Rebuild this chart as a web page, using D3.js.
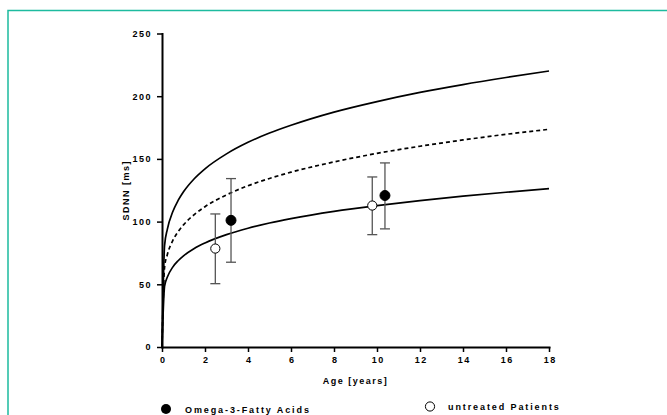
<!DOCTYPE html>
<html>
<head>
    <script src="https://d3js.org/d3.v7.min.js"></script>
    <style>
        body { margin: 0; background: #fff; }
        svg text {
            font-family: "Liberation Sans", Arial, sans-serif;
            font-weight: bold;
            font-size: 9px;
            letter-spacing: 1.5px;
            fill: #000;
        }
        svg text.legend { letter-spacing: 1.9px; }
        .axis path, .axis line { stroke: #000; }
        .axis path { stroke-width: 2px; }
        .axis line { stroke-width: 1.5px; }
        .curve { fill: none; stroke: #000; stroke-width: 1.7px; }
        .err { stroke: #555; stroke-width: 1.3px; }
    </style>
</head>
<body>
    <div id="chart"></div>

    <script>
        // Reference curves: age in years, SDNN in ms
        const curveAges   = [0, 0.12, 0.25, 0.5, 0.75, 1, 1.5, 2, 3, 4, 5, 6, 8, 10, 12, 14, 16, 18];
        const upperCurve  = [0, 81, 94, 107.8, 116.9, 123.8, 134.2, 142.1, 154, 163.2, 170.6, 176.8, 187.3, 195.7, 203, 209.3, 214.9, 220.1];
        const medianCurve = [0, 63.7, 73.8, 84.8, 92, 97.4, 105.6, 111.9, 121.3, 128.6, 134.4, 139.4, 147.6, 154.4, 160.1, 165.1, 169.6, 173.6];
        const lowerCurve  = [0, 48.5, 55.8, 63.7, 68.8, 72.7, 78.6, 83, 89.6, 94.7, 98.9, 102.4, 108.2, 112.8, 116.8, 120.3, 123.4, 126.3];

        // Patient groups: mean with error bars
        const omegaAge   = [3.21, 10.37];
        const omegaMean  = [101, 120.8];
        const omegaLow   = [67.6, 94.2];
        const omegaHigh  = [134.3, 146.8];

        const untreatedAge  = [2.48, 9.78];
        const untreatedMean = [78.5, 112.8];
        const untreatedLow  = [50.5, 89.6];
        const untreatedHigh = [106.1, 135.6];

        const xTicks = [0, 2, 4, 6, 8, 10, 12, 14, 16, 18];
        const yTicks = [0, 50, 100, 150, 200, 250];

        const W = 667, H = 415;
        const svg = d3.select("#chart").append("svg")
            .attr("width", W).attr("height", H);

        // teal frame
        svg.append("rect")
            .attr("x", 8).attr("y", 10.5)
            .attr("width", W).attr("height", H)
            .attr("fill", "none")
            .attr("stroke", "#1dbb9f")
            .attr("stroke-width", 1.5);

        const x = d3.scaleLinear().domain([0, 18]).range([162, 549]);
        const y = d3.scaleLinear().domain([0, 250]).range([347, 33.5]);

        // axes
        svg.append("g")
            .attr("class", "axis")
            .attr("transform", `translate(0,${y(0)})`)
            .call(d3.axisBottom(x).tickValues(xTicks).tickSize(5).tickSizeOuter(0).tickPadding(5))
            .call(g => g.selectAll("text").attr("dx", "0.7px"));

        svg.append("g")
            .attr("class", "axis")
            .attr("transform", `translate(${x(0)},0)`)
            .call(d3.axisLeft(y).tickValues(yTicks).tickSize(5).tickSizeOuter(0).tickPadding(5));

        svg.selectAll(".axis .domain").attr("stroke-linecap", "square");

        // axis titles
        svg.append("text")
            .attr("x", (x(0) + x(18)) / 2)
            .attr("y", 384)
            .attr("text-anchor", "middle")
            .text("Age [years]");

        svg.append("text")
            .attr("transform", `translate(129,${(y(0) + y(250)) / 2}) rotate(-90)`)
            .attr("text-anchor", "middle")
            .text("SDNN [ms]");

        // curves
        const line = d3.line()
            .x((d, i) => x(curveAges[i]))
            .y(d => y(d))
            .curve(d3.curveMonotoneX);

        svg.append("path").attr("class", "curve").attr("d", line(upperCurve));
        svg.append("path").attr("class", "curve").attr("d", line(lowerCurve));
        svg.append("path").attr("class", "curve")
            .attr("stroke-width", 2)
            .attr("stroke-dasharray", "4,3")
            .attr("d", line(medianCurve));

        // error bars + points
        function drawGroup(ages, means, lows, highs, filled) {
            const g = svg.append("g");
            ages.forEach((a, i) => {
                const cx = x(a);
                g.append("line").attr("class", "err")
                    .attr("x1", cx).attr("x2", cx)
                    .attr("y1", y(lows[i])).attr("y2", y(highs[i]));
                [lows[i], highs[i]].forEach(v => {
                    g.append("line").attr("class", "err")
                        .attr("x1", cx - 5).attr("x2", cx + 5)
                        .attr("y1", y(v)).attr("y2", y(v));
                });
                g.append("circle")
                    .attr("cx", cx).attr("cy", y(means[i]))
                    .attr("r", filled ? 5 : 4.6)
                    .attr("fill", filled ? "#000" : "#fff")
                    .attr("stroke", "#000")
                    .attr("stroke-width", 1);
            });
        }
        drawGroup(untreatedAge, untreatedMean, untreatedLow, untreatedHigh, false);
        drawGroup(omegaAge, omegaMean, omegaLow, omegaHigh, true);

        // legend
        svg.append("circle").attr("cx", 166).attr("cy", 409).attr("r", 5).attr("fill", "#000");
        svg.append("text").attr("class", "legend").attr("x", 185).attr("y", 412.5).text("Omega-3-Fatty Acids");

        svg.append("circle").attr("cx", 430).attr("cy", 406.5).attr("r", 4.6)
            .attr("fill", "#fff").attr("stroke", "#000").attr("stroke-width", 1);
        svg.append("text").attr("class", "legend").attr("x", 448).attr("y", 410).text("untreated Patients");
    </script>
</body>
</html>
